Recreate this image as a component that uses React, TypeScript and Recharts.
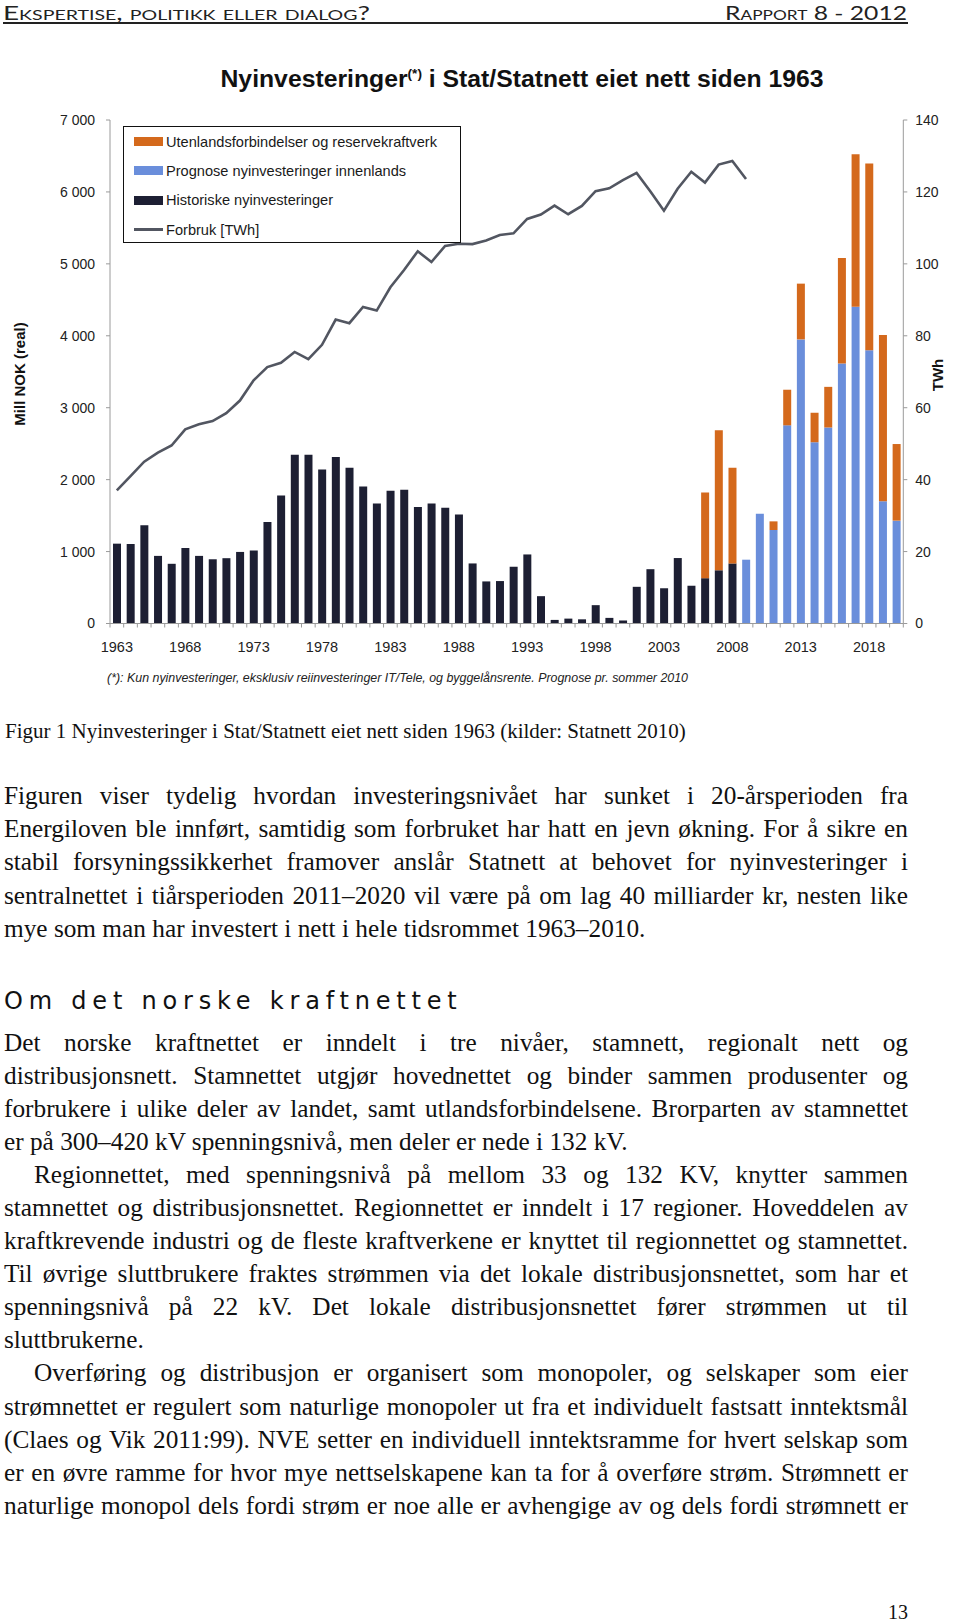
import React from 'react';
import { ComposedChart, Bar, Line, XAxis, YAxis } from 'recharts';

// categories
const years = [
  1963, 1964, 1965, 1966, 1967, 1968, 1969, 1970, 1971, 1972, 1973, 1974, 1975, 1976, 1977,
  1978, 1979, 1980, 1981, 1982, 1983, 1984, 1985, 1986, 1987, 1988, 1989, 1990, 1991, 1992,
  1993, 1994, 1995, 1996, 1997, 1998, 1999, 2000, 2001, 2002, 2003, 2004, 2005, 2006, 2007,
  2008, 2009, 2010, 2011, 2012, 2013, 2014, 2015, 2016, 2017, 2018, 2019, 2020,
];

// Mill NOK (real)
const historiske = [
  1110, 1105, 1365, 940, 830, 1050, 940, 893, 908, 995, 1015, 1410, 1780, 2345, 2345,
  2140, 2315, 2165, 1905, 1670, 1845, 1860, 1620, 1670, 1610, 1515, 835, 585, 590, 790,
  960, 380, 50, 68, 58, 255, 78, 42, 510, 755, 490, 910, 525, 630, 740,
  835, null, null, null, null, null, null, null, null, null, null, null, null,
];
const prognose = [
  null, null, null, null, null, null, null, null, null, null, null, null, null, null, null,
  null, null, null, null, null, null, null, null, null, null, null, null, null, null, null,
  null, null, null, null, null, null, null, null, null, null, null, null, null, null, null,
  null, 887, 1525, 1300, 2755, 3950, 2520, 2725, 3615, 4405, 3800, 1700, 1430,
];
const utenlands = [
  null, null, null, null, null, null, null, null, null, null, null, null, null, null, null,
  null, null, null, null, null, null, null, null, null, null, null, null, null, null, null,
  null, null, null, null, null, null, null, null, null, null, null, null, null, 1190, 1945,
  1330, null, null, 120, 495, 775, 410, 565, 1465, 2120, 2595, 2310, 1065,
];
// TWh
const forbruk = [
  37, 41, 45, 47.5, 49.5, 54, 55.4, 56.3, 58.5, 62, 67.6, 71.3, 72.5, 75.5, 73.5,
  77.5, 84.5, 83.5, 88, 87, 93.5, 98.3, 103.5, 100.5, 105, 105.6, 105.5, 106.5, 108, 108.5,
  112.5, 113.7, 116.2, 113.8, 116.1, 120.2, 121, 123.3, 125.3, 120.2, 114.8, 120.9, 125.6, 122.6, 127.6,
  128.6, 123.6, null, null, null, null, null, null, null, null, null, null, null,
];

const mnokTicks = [0, 1000, 2000, 3000, 4000, 5000, 6000, 7000];
const twhTicks = [0, 20, 40, 60, 80, 100, 120, 140];
const yearLabels = [1963, 1968, 1973, 1978, 1983, 1988, 1993, 1998, 2003, 2008, 2013, 2018];

const COLORS = {
  hist: '#1d1f33',
  prog: '#6a8edb',
  uten: '#d4691c',
  line: '#525661',
  axis: '#9a9a9a',
};

const legendItems = [
  { label: 'Utenlandsforbindelser og reservekraftverk', color: COLORS.uten, kind: 'bar' },
  { label: 'Prognose nyinvesteringer innenlands', color: COLORS.prog, kind: 'bar' },
  { label: 'Historiske nyinvesteringer', color: COLORS.hist, kind: 'bar' },
  { label: 'Forbruk [TWh]', color: COLORS.line, kind: 'line' },
];

const chartData = years.map((year, i) => ({
  year,
  hist: historiske[i] ?? 0,
  prog: prognose[i] ?? 0,
  uten: utenlands[i] ?? 0,
  forbruk: forbruk[i],
}));

const chartFont = '"Liberation Sans", Arial, sans-serif';
const bodyFont = '"Liberation Serif", "Times New Roman", serif';

const X_TICK_MARGIN = 18;

function YearTick(props: any) {
  const { x, y, payload } = props;
  const half = payload.offset || 6.84;
  const axisY = y - X_TICK_MARGIN;
  const isLast = payload.value === years[years.length - 1];
  return (
    <g>
      <line x1={x - half} x2={x - half} y1={axisY} y2={axisY + 4} stroke={COLORS.axis} />
      {isLast && <line x1={x + half} x2={x + half} y1={axisY} y2={axisY + 4} stroke={COLORS.axis} />}
      {yearLabels.includes(payload.value) && (
        <text x={x} y={y} dy="0.71em" textAnchor="middle" fill="#222" fontSize={14.5} fontFamily={chartFont}>
          {payload.value}
        </text>
      )}
    </g>
  );
}

const fmtMnok = (v: number) => (v === 0 ? '0' : `${v / 1000} 000`);

function Legend() {
  return (
    <div
      style={{
        position: 'absolute',
        left: 123,
        top: 126,
        width: 338,
        height: 117,
        boxSizing: 'border-box',
        border: '1.5px solid #111',
        background: '#fff',
        fontFamily: chartFont,
        fontSize: 14.6,
        color: '#1a1a1a',
      }}
    >
      {legendItems.map((item) => (
        <div key={item.label} style={{ height: 29.3, display: 'flex', alignItems: 'center', paddingLeft: 10 }}>
          {item.kind === 'bar' ? (
            <span style={{ display: 'inline-block', width: 29, height: 9, background: item.color }} />
          ) : (
            <span style={{ display: 'inline-block', width: 29, height: 2.6, background: item.color }} />
          )}
          <span style={{ marginLeft: 3, whiteSpace: 'nowrap' }}>{item.label}</span>
        </div>
      ))}
    </div>
  );
}

const para1 = [
  'Figuren viser tydelig hvordan investeringsnivået har sunket i 20-årsperioden fra',
  'Energiloven ble innført, samtidig som forbruket har hatt en jevn økning. For å sikre en',
  'stabil forsyningssikkerhet framover anslår Statnett at behovet for nyinvesteringer i',
  'sentralnettet i tiårsperioden 2011–2020 vil være på om lag 40 milliarder kr, nesten like',
  'mye som man har investert i nett i hele tidsrommet 1963–2010.',
];

// [text, indent, justified]
const para2: [string, boolean, boolean][] = [
  ['Det norske kraftnettet er inndelt i tre nivåer, stamnett, regionalt nett og', false, true],
  ['distribusjonsnett. Stamnettet utgjør hovednettet og binder sammen produsenter og', false, true],
  ['forbrukere i ulike deler av landet, samt utlandsforbindelsene. Brorparten av stamnettet', false, true],
  ['er på 300–420 kV spenningsnivå, men deler er nede i 132 kV.', false, false],
  ['Regionnettet, med spenningsnivå på mellom 33 og 132 KV, knytter sammen', true, true],
  ['stamnettet og distribusjonsnettet. Regionnettet er inndelt i 17 regioner. Hoveddelen av', false, true],
  ['kraftkrevende industri og de fleste kraftverkene er knyttet til regionnettet og stamnettet.', false, true],
  ['Til øvrige sluttbrukere fraktes strømmen via det lokale distribusjonsnettet, som har et', false, true],
  ['spenningsnivå på 22 kV. Det lokale distribusjonsnettet fører strømmen ut til', false, true],
  ['sluttbrukerne.', false, false],
  ['Overføring og distribusjon er organisert som monopoler, og selskaper som eier', true, true],
  ['strømnettet er regulert som naturlige monopoler ut fra et individuelt fastsatt inntektsmål', false, true],
  ['(Claes og Vik 2011:99). NVE setter en individuell inntektsramme for hvert selskap som', false, true],
  ['er en øvre ramme for hvor mye nettselskapene kan ta for å overføre strøm. Strømnett er', false, true],
  ['naturlige monopol dels fordi strøm er noe alle er avhengige av og dels fordi strømnett er', false, true],
];

function TextLine({ text, indent, justify, lh }: { text: string; indent?: boolean; justify: boolean; lh: number }) {
  return (
    <div
      style={{
        height: lh,
        lineHeight: `${lh}px`,
        whiteSpace: 'nowrap',
        textAlign: justify ? 'justify' : 'left',
        textAlignLast: justify ? 'justify' : 'left',
        paddingLeft: indent ? 30 : 0,
      }}
    >
      {text}
    </div>
  );
}

export default function App() {
  return (
    <div style={{ position: 'absolute', left: 0, top: 0, width: 960, height: 1623, background: '#fff', color: '#111' }}>
      {/* page header */}
      <svg width={960} height={30} style={{ position: 'absolute', left: 0, top: 0 }}>
        <text x={3} y={20} fontFamily="Lato, 'Open Sans', sans-serif" fontSize={20} style={{ fontVariant: 'small-caps' }} fill="#222" textLength={367} lengthAdjust="spacingAndGlyphs">
          Ekspertise, politikk eller dialog?
        </text>
        <text x={725} y={20} fontFamily="Lato, 'Open Sans', sans-serif" fontSize={20} style={{ fontVariant: 'small-caps' }} fill="#222" textLength={182} lengthAdjust="spacingAndGlyphs">
          Rapport 8 - 2012
        </text>
        <line x1={3} x2={908} y1={23} y2={23} stroke="#222" strokeWidth={1.8} />
      </svg>

      {/* chart */}
      <div style={{ position: 'absolute', left: 0, top: 100 }}>
        <ComposedChart
          width={960}
          height={560}
          data={chartData}
          margin={{ top: 20, right: 16.7, bottom: 6.5, left: 50 }}
          barCategoryGap={0}
        >
          <XAxis
            dataKey="year"
            interval={0}
            tickSize={0}
            tickMargin={X_TICK_MARGIN}
            tickLine={false}
            axisLine={{ stroke: COLORS.axis }}
            tick={<YearTick />}
            height={30}
          />
          <YAxis
            yAxisId="mnok"
            orientation="left"
            type="number"
            domain={[0, 7000]}
            ticks={mnokTicks}
            tickFormatter={fmtMnok}
            width={60}
            tickSize={4}
            tickMargin={11}
            axisLine={{ stroke: COLORS.axis }}
            tickLine={{ stroke: COLORS.axis }}
            tick={{ fill: '#222', fontSize: 14, fontFamily: chartFont }}
          />
          <YAxis
            yAxisId="twh"
            orientation="right"
            type="number"
            domain={[0, 140]}
            ticks={twhTicks}
            width={40}
            tickSize={4}
            tickMargin={8}
            axisLine={{ stroke: COLORS.axis }}
            tickLine={{ stroke: COLORS.axis }}
            tick={{ fill: '#222', fontSize: 14, fontFamily: chartFont }}
          />
          <Bar yAxisId="mnok" dataKey="hist" stackId="s" fill={COLORS.hist} barSize={8} isAnimationActive={false} />
          <Bar yAxisId="mnok" dataKey="prog" stackId="s" fill={COLORS.prog} barSize={8} isAnimationActive={false} />
          <Bar yAxisId="mnok" dataKey="uten" stackId="s" fill={COLORS.uten} barSize={8} isAnimationActive={false} />
          <Line
            yAxisId="twh"
            type="linear"
            dataKey="forbruk"
            stroke={COLORS.line}
            strokeWidth={2.6}
            dot={false}
            activeDot={false}
            connectNulls={false}
            isAnimationActive={false}
          />
        </ComposedChart>
      </div>

      {/* chart texts */}
      <svg width={960} height={700} style={{ position: 'absolute', left: 0, top: 0, pointerEvents: 'none' }}>
        <text x={522} y={87} textAnchor="middle" fontFamily={chartFont} fontWeight="bold" fontSize={23.5} fill="#111" textLength={603} lengthAdjust="spacingAndGlyphs">
          Nyinvesteringer<tspan fontSize={13} dy={-9}>(*)</tspan><tspan dy={9}> i Stat/Statnett eiet nett siden 1963</tspan>
        </text>
        <text x={19} y={374} transform="rotate(-90, 19, 374)" textAnchor="middle" dominantBaseline="central" fontFamily={chartFont} fontWeight="bold" fontSize={15} fill="#111">
          Mill NOK (real)
        </text>
        <text x={937} y={375} transform="rotate(-90, 937, 375)" textAnchor="middle" dominantBaseline="central" fontFamily={chartFont} fontWeight="bold" fontSize={15} fill="#111">
          TWh
        </text>
        <text x={107} y={681.5} fontFamily={chartFont} fontStyle="italic" fontSize={12} fill="#222" textLength={581} lengthAdjust="spacingAndGlyphs">
          (*): Kun nyinvesteringer, eksklusiv reiinvesteringer IT/Tele, og byggelånsrente. Prognose pr. sommer 2010
        </text>
      </svg>

      <Legend />

      {/* caption */}
      <div style={{ position: 'absolute', left: 5, top: 719, fontFamily: bodyFont, fontSize: 21, lineHeight: '24px', whiteSpace: 'nowrap' }}>
        Figur 1 Nyinvesteringer i Stat/Statnett eiet nett siden 1963 (kilder: Statnett 2010)
      </div>

      {/* paragraph 1 */}
      <div style={{ position: 'absolute', left: 4, top: 779, width: 904, fontFamily: bodyFont, fontSize: 25.3 }}>
        {para1.map((t, i) => (
          <TextLine key={i} text={t} justify={i < para1.length - 1} lh={33.2} />
        ))}
      </div>

      {/* heading */}
      <div
        style={{
          position: 'absolute',
          left: 4,
          top: 987,
          fontFamily: '"DejaVu Sans", Verdana, sans-serif',
          fontSize: 24,
          lineHeight: '28px',
          letterSpacing: 5.8,
          whiteSpace: 'nowrap',
        }}
      >
        Om det norske kraftnettet
      </div>

      {/* paragraphs 2-4 */}
      <div style={{ position: 'absolute', left: 4, top: 1026, width: 904, fontFamily: bodyFont, fontSize: 25.3 }}>
        {para2.map(([t, indent, just], i) => (
          <TextLine key={i} text={t} indent={indent} justify={just} lh={33.05} />
        ))}
      </div>

      {/* page number */}
      <div style={{ position: 'absolute', right: 52, top: 1601, fontFamily: bodyFont, fontSize: 20, lineHeight: '22px' }}>
        13
      </div>
    </div>
  );
}
